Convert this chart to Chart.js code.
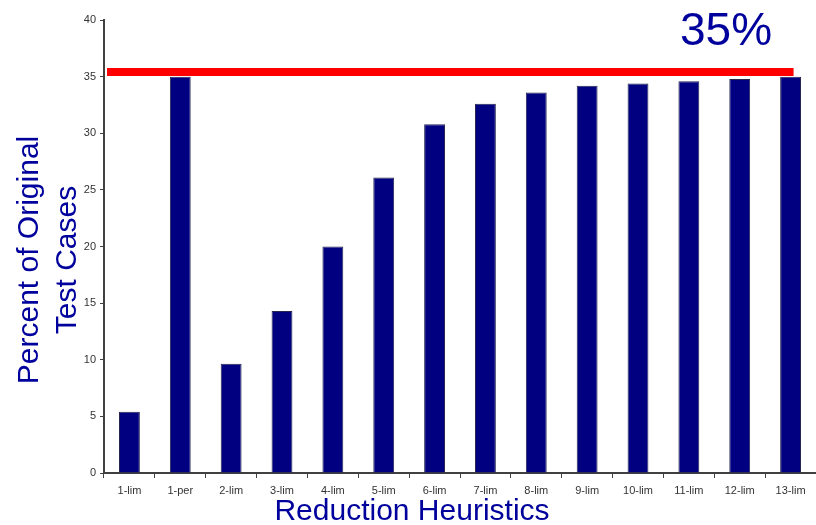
<!DOCTYPE html>
<html lang="en">
  <head>
    <meta charset="UTF-8" />
    <title>Reduction Heuristics</title>
    <script src="https://cdn.jsdelivr.net/npm/chart.js"></script>
    <style>
      html, body { margin: 0; padding: 0; background: #fff; }
      .chart-box { position: relative; width: 816px; height: 525px; }
    </style>
  </head>
  <body>
    <div class="chart-box">
      <canvas id="heuristicsChart"></canvas>
    </div>

    <script>
      // data
      var categories = ["1-lim", "1-per", "2-lim", "3-lim", "4-lim", "5-lim", "6-lim",
                        "7-lim", "8-lim", "9-lim", "10-lim", "11-lim", "12-lim", "13-lim"];
      var percentValues = [5.4, 35.0, 9.65, 14.3, 20.0, 26.1, 30.8,
                           32.6, 33.6, 34.2, 34.4, 34.6, 34.8, 35.0];
      var yTicks = [0, 5, 10, 15, 20, 25, 30, 35, 40];
      var targetLevel = 35.4;
      var targetLabel = "35%";

      var navy = "#00009c";

      // red target line + big labels
      var overlayPlugin = {
        id: "overlay",
        afterDatasetsDraw: function (chart) {
          var ctx = chart.ctx;
          var area = chart.chartArea;
          var x = chart.scales.x;
          var y = chart.scales.y;
          var yPos = y.getPixelForValue(targetLevel);
          ctx.save();
          ctx.strokeStyle = "#ff0000";
          ctx.lineWidth = 8;
          ctx.beginPath();
          ctx.moveTo(area.left + 3, yPos);
          ctx.lineTo(x.getPixelForValue(categories.length - 1) + 3, yPos);
          ctx.stroke();
          ctx.restore();
        },
        afterDraw: function (chart) {
          var ctx = chart.ctx;
          ctx.save();
          ctx.fillStyle = navy;
          ctx.textBaseline = "alphabetic";

          ctx.font = "46px Arial, 'Liberation Sans', sans-serif";
          ctx.textAlign = "left";
          ctx.fillText(targetLabel, 680, 45);

          ctx.font = "30px Arial, 'Liberation Sans', sans-serif";
          ctx.textAlign = "center";
          ctx.fillText("Reduction Heuristics", 412, 520);

          ctx.translate(0, 260);
          ctx.rotate(-Math.PI / 2);
          ctx.fillText("Percent of Original", 0, 38);
          ctx.fillText("Test Cases", 0, 76);
          ctx.restore();
        }
      };

      var ctx = document.getElementById("heuristicsChart").getContext("2d");
      var chart = new Chart(ctx, {
        type: "bar",
        data: {
          labels: categories,
          datasets: [
            {
              label: "Percent",
              data: percentValues,
              backgroundColor: "#000080",
              borderColor: "#262650",
              borderWidth: 1,
              barPercentage: 0.41,
              categoryPercentage: 1.0
            }
          ]
        },
        options: {
          responsive: true,
          maintainAspectRatio: false,
          animation: false,
          layout: { padding: { top: 20, right: 0, left: 0, bottom: 0 } },
          plugins: {
            legend: { display: false },
            tooltip: { enabled: false }
          },
          scales: {
            x: {
              offset: true,
              grid: {
                display: true,
                offset: true,
                drawOnChartArea: false,
                drawTicks: true,
                tickLength: 5,
                color: "#404040"
              },
              border: { color: "#404040", width: 2 },
              ticks: {
                color: "#333",
                font: { family: "Arial, 'Liberation Sans', sans-serif", size: 11 },
                maxRotation: 0,
                autoSkip: false,
                padding: 6
              },
              afterFit: function (scale) { scale.height = 52; }
            },
            y: {
              min: 0,
              max: 40,
              afterBuildTicks: function (scale) {
                scale.ticks = yTicks.map(function (v) { return { value: v }; });
              },
              grid: {
                display: true,
                drawOnChartArea: false,
                drawTicks: true,
                tickLength: 4,
                color: "#404040"
              },
              border: { color: "#404040", width: 2 },
              ticks: {
                color: "#333",
                font: { family: "Arial, 'Liberation Sans', sans-serif", size: 11 },
                padding: 4
              },
              afterFit: function (scale) { scale.width = 104; }
            }
          }
        },
        plugins: [overlayPlugin]
      });
    </script>
  </body>
</html>
